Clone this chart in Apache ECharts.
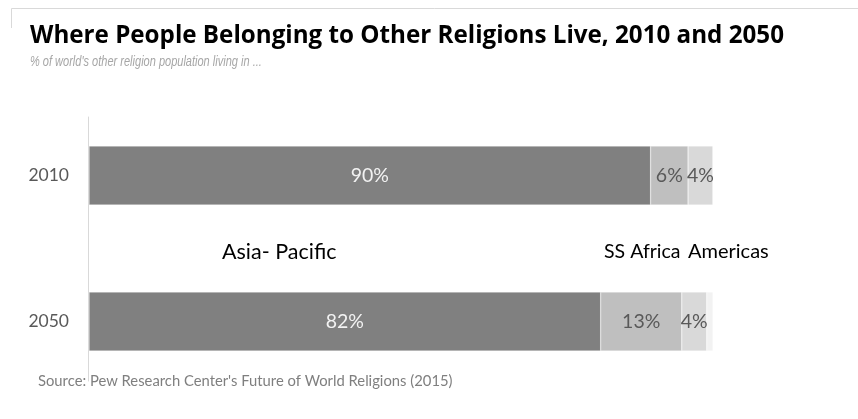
<!DOCTYPE html>
<html>
<head>
<meta charset="utf-8">
<script src="https://cdn.jsdelivr.net/npm/echarts@6/dist/echarts.min.js"></script>
<style>
  html, body { margin: 0; padding: 0; background: #ffffff; }
  #chart { width: 858px; height: 419px; }
</style>
</head>
<body>
<div id="chart"></div>
<script>
// Share of the world's "other religions" population by region
const years = ['2010', '2050'];
const asiaPacific = [90, 82];
const ssAfrica = [6, 13];
const americas = [4, 4];
const restOfWorld = [0, 1];

const regionNames = ['Asia- Pacific', 'SS Africa', 'Americas', 'Other regions'];

const titleText = 'Where People Belonging to Other Religions Live, 2010 and 2050';
const subtitleText = "% of world's other religion population living in ...";
const sourceText = "Source: Pew Research Center's Future of World Religions (2015)";

const baseFont = 'Lato, "Open Sans", sans-serif';

const chart = echarts.init(document.getElementById('chart'), null, { renderer: 'canvas' });

function segment(name, values, color, labelColor) {
  return {
    name: name,
    type: 'bar',
    stack: 'total',
    xAxisIndex: 0,
    yAxisIndex: 0,
    barWidth: 59,
    data: values,
    itemStyle: { color: color, borderColor: 'rgba(255,255,255,0.6)', borderWidth: 0.5 },
    label: {
      show: labelColor !== null,
      position: 'inside',
      formatter: p => p.value > 0 ? p.value + '%' : '',
      color: labelColor || '#595959',
      fontFamily: baseFont,
      fontSize: 19.5
    },
    emphasis: { disabled: true },
    animation: false
  };
}

function note(text, x, y, size, color) {
  return {
    type: 'text',
    x: x, y: y,
    silent: true,
    style: {
      text: text,
      fontFamily: baseFont,
      fontSize: size,
      fill: color,
      verticalAlign: 'middle'
    }
  };
}

chart.setOption({
  animation: false,
  backgroundColor: '#ffffff',
  grid: [
    { left: 89, right: 145, top: 102.5, bottom: 24.5 },
    { left: 88, right: 145, top: 117, bottom: 38 }
  ],
  xAxis: [
    { type: 'value', gridIndex: 0, min: 0, max: 100, show: false },
    { type: 'value', gridIndex: 1, min: 0, max: 100, show: false }
  ],
  yAxis: [
    {
      type: 'category',
      gridIndex: 0,
      data: years,
      inverse: true,
      axisLine: { show: false },
      axisTick: { show: false },
      splitLine: { show: false },
      axisLabel: { color: '#595959', fontSize: 17.5, fontFamily: baseFont, margin: 20 }
    },
    {
      // vertical baseline of the bars
      type: 'value',
      gridIndex: 1,
      axisLine: { show: true, lineStyle: { color: '#d9d9d9', width: 1 } },
      axisTick: { show: false },
      axisLabel: { show: false },
      splitLine: { show: false }
    }
  ],
  series: [
    segment(regionNames[0], asiaPacific, '#808080', '#f2f2f2'),
    segment(regionNames[1], ssAfrica, '#bfbfbf', '#595959'),
    segment(regionNames[2], americas, '#d9d9d9', '#595959'),
    segment(regionNames[3], restOfWorld, '#f2f2f2', null)
  ],
  graphic: [
    {
      type: 'polyline',
      silent: true,
      shape: { points: [[11.5, 28], [11.5, 8.5], [858, 8.5]] },
      style: { stroke: '#d9d9d9', lineWidth: 1, fill: null }
    },
    {
      type: 'text',
      x: 30, y: 36,
      silent: true,
      style: {
        text: titleText,
        fontFamily: '"Open Sans", Lato, sans-serif',
        fontWeight: 'bold',
        fontSize: 24.2,
        fill: '#000000',
        verticalAlign: 'middle'
      }
    },
    {
      type: 'text',
      x: 30, y: 62,
      scaleX: 0.76,
      silent: true,
      style: {
        text: subtitleText,
        fontFamily: '"Liberation Sans", Arial, sans-serif',
        fontStyle: 'italic',
        fontSize: 14.5,
        fill: '#a6a6a6',
        verticalAlign: 'middle'
      }
    },
    note(regionNames[0], 222, 252, 21.5, '#000000'),
    note(regionNames[1], 604, 252, 19.5, '#000000'),
    note(regionNames[2], 688, 252, 20, '#000000'),
    note(sourceText, 38, 381, 14.8, '#7f7f7f')
  ]
});
</script>
</body>
</html>
